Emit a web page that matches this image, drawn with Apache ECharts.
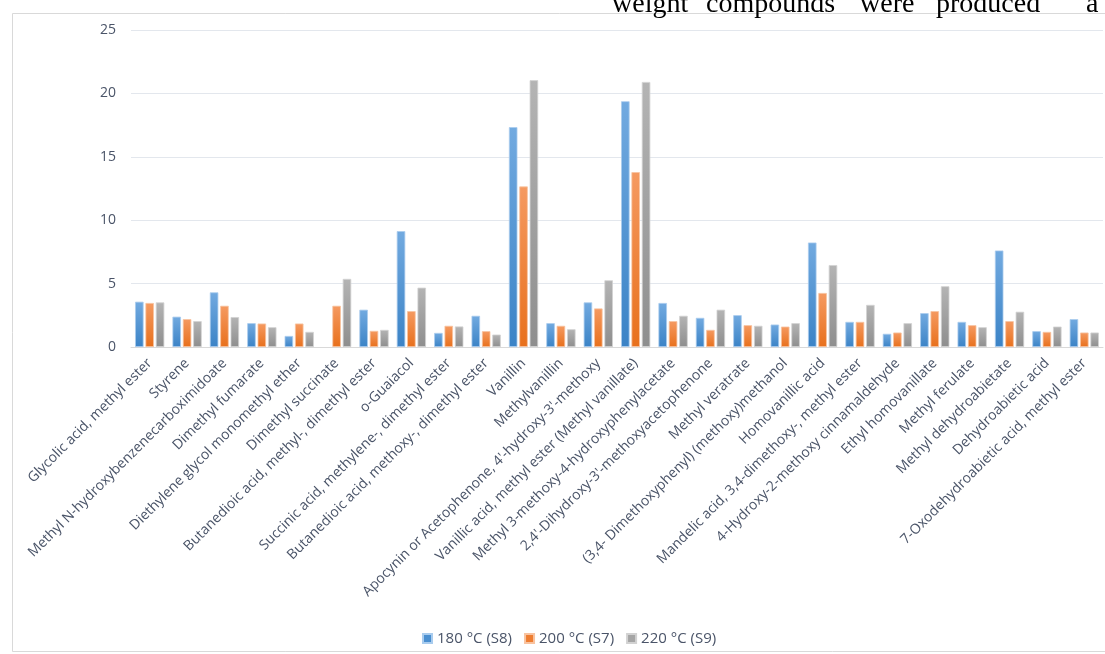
<!DOCTYPE html>
<html>
<head>
<meta charset="utf-8">
<script src="https://cdn.jsdelivr.net/npm/echarts@6/dist/echarts.min.js"></script>
<style>
  html, body { margin: 0; padding: 0; background: #ffffff; }
  #chart { width: 1105px; height: 654px; }
</style>
</head>
<body>
<div id="chart"></div>
<script>
// Compounds identified in the liquid product
const categories = [
  'Glycolic acid, methyl ester',
  'Styrene',
  'Methyl N-hydroxybenzenecarboximidoate',
  'Dimethyl fumarate',
  'Diethylene glycol monomethyl ether',
  'Dimethyl succinate',
  'Butanedioic acid, methyl-, dimethyl ester',
  'o-Guaiacol',
  'Succinic acid, methylene-, dimethyl ester',
  'Butanedioic acid, methoxy-, dimethyl ester',
  'Vanillin',
  'Methylvanillin',
  "Apocynin or Acetophenone, 4'-hydroxy-3'-methoxy",
  'Vanillic acid, methyl ester (Methyl vanillate)',
  'Methyl 3-methoxy-4-hydroxyphenylacetate',
  "2,4'-Dihydroxy-3'-methoxyacetophenone",
  'Methyl veratrate',
  '(3,4- Dimethoxyphenyl) (methoxy)methanol',
  'Homovanillic acid',
  'Mandelic acid, 3,4-dimethoxy-, methyl ester',
  '4-Hydroxy-2-methoxy cinnamaldehyde',
  'Ethyl homovanillate',
  'Methyl ferulate',
  'Methyl dehydroabietate',
  'Dehydroabietic acid',
  '7-Oxodehydroabietic acid, methyl ester'
];

const seriesNames = ['180 °C (S8)', '200 °C (S7)', '220 °C (S9)'];

const values180 = [3.57, 2.39, 4.31, 1.88, 0.87, null, 2.94, 9.14, 1.11, 2.46, 17.34, 1.88, 3.52,
  19.38, 3.47, 2.30, 2.51, 1.77, 8.24, 1.98, 1.04, 2.67, 1.98, 7.61, 1.25, 2.20];
const values200 = [3.47, 2.20, 3.25, 1.85, 1.85, 3.25, 1.27, 2.83, 1.67, 1.25, 12.66, 1.67, 3.04,
  13.79, 2.04, 1.35, 1.72, 1.61, 4.26, 1.98, 1.14, 2.83, 1.72, 2.04, 1.19, 1.14];
const values220 = [3.52, 2.04, 2.36, 1.56, 1.19, 5.37, 1.35, 4.68, 1.62, 0.98, 21.04, 1.40, 5.26,
  20.90, 2.46, 2.94, 1.67, 1.88, 6.46, 3.32, 1.88, 4.79, 1.56, 2.78, 1.61, 1.14];

const yAxisMin = 0;
const yAxisMax = 25;
const yAxisStep = 5;

// Words of the body text line running above the figure
const headerWords = ['weight', 'compounds', 'were', 'produced', 'a'];

const textColor = '#4a5468';
const fontFamily = '"Open Sans", "Liberation Sans", sans-serif';

function barFill(top, bottom) {
  return new echarts.graphic.LinearGradient(0, 0, 0, 1, [
    { offset: 0, color: top },
    { offset: 1, color: bottom }
  ]);
}

const palette = [
  { top: '#72aae0', bottom: '#3b83c6', edge: '#a9ccee', legend: '#4a8fd0' },
  { top: '#f59a61', bottom: '#e8701c', edge: '#f8c3a0', legend: '#ee7d31' },
  { top: '#b4b4b4', bottom: '#8e8e8e', edge: '#d2d2d2', legend: '#a5a5a5' }
];

const dataSets = [values180, values200, values220];

const chart = echarts.init(document.getElementById('chart'), null, { renderer: 'canvas' });

const headerX = [612, 706, 860, 936, 1086];

const option = {
  animation: false,
  backgroundColor: '#ffffff',
  textStyle: { fontFamily: fontFamily },
  graphic: [
    {
      type: 'rect',
      shape: { x: 12.5, y: 13.5, width: 1110, height: 638 },
      style: { fill: 'none', stroke: '#d9d9d9', lineWidth: 1 },
      silent: true,
      z: -10
    }
  ].concat(headerWords.map((w, i) => ({
    type: 'text',
    left: headerX[i],
    top: -9,
    style: {
      text: w,
      font: '28px "Liberation Serif", "DejaVu Serif", serif',
      fill: '#000000'
    },
    silent: true
  }))),
  legend: {
    bottom: 3,
    left: 417,
    itemWidth: 9,
    itemHeight: 9,
    itemGap: 12,
    icon: 'rect',
    textStyle: { color: textColor, fontSize: 15, fontFamily: fontFamily },
    data: seriesNames.map((n, i) => ({ name: n, itemStyle: { color: palette[i].legend } }))
  },
  grid: {
    left: 131,
    right: 2,
    top: 30,
    bottom: 307,
    containLabel: false
  },
  xAxis: {
    type: 'category',
    data: categories,
    axisTick: { show: false },
    axisLine: { show: true, lineStyle: { color: '#d9d9d9', width: 1 } },
    axisLabel: {
      interval: 0,
      rotate: 45,
      margin: 14,
      color: textColor,
      fontSize: 14,
      fontFamily: fontFamily
    }
  },
  yAxis: {
    type: 'value',
    min: yAxisMin,
    max: yAxisMax,
    interval: yAxisStep,
    axisLine: { show: false },
    axisTick: { show: false },
    splitLine: { lineStyle: { color: '#e3e7ed', width: 1 } },
    axisLabel: {
      margin: 15,
      color: textColor,
      fontSize: 14,
      fontFamily: fontFamily
    }
  },
  series: dataSets.map((vals, i) => ({
    name: seriesNames[i],
    type: 'bar',
    data: vals,
    barWidth: 8.5,
    barGap: '22%',
    itemStyle: {
      color: barFill(palette[i].top, palette[i].bottom),
      borderColor: palette[i].edge,
      borderWidth: 0.8
    }
  }))
};

chart.setOption(option);
</script>
</body>
</html>
